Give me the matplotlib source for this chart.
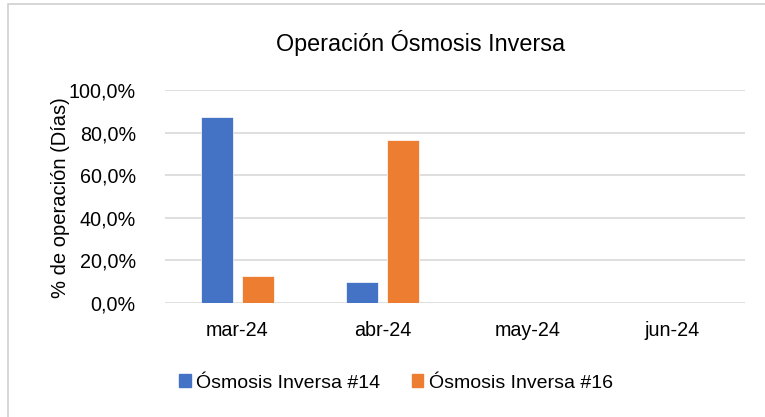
import matplotlib
matplotlib.use("Agg")
import matplotlib.pyplot as plt
from matplotlib.patches import Rectangle, Patch
from matplotlib.ticker import FuncFormatter
import numpy as np

plt.rcParams['font.family'] = ['Liberation Sans', 'DejaVu Sans']

# data
months = ['mar-24', 'abr-24', 'may-24', 'jun-24']
oi_14 = [87.1, 9.7, 0.0, 0.0]
oi_16 = [12.9, 76.7, 0.0, 0.0]
series_names = ['Ósmosis Inversa #14', 'Ósmosis Inversa #16']
title = 'Operación Ósmosis Inversa'
ylabel = '% de operación (Días)'

blue = '#4472C4'
orange = '#ED7D31'
grid_c = '#d9d9d9'

W, H = 765, 417
fig = plt.figure(figsize=(W / 100, H / 100), dpi=100)

# chart frame
fig.patches.append(Rectangle((8 / W, -0.1), 1.2, (H - 4) / H + 0.1,
                             transform=fig.transFigure, fill=False,
                             edgecolor='#d0d0d0', linewidth=1.2))

ax = fig.add_axes([165 / W, (H - 303) / H, 580 / W, 213 / H])

x = np.arange(len(months))
w = 0.22
off = 0.141
ax.bar(x - off, oi_14, w, color=blue, edgecolor='white', linewidth=0.5, zorder=3)
ax.bar(x + off, oi_16, w, color=orange, edgecolor='white', linewidth=0.5, zorder=3)

ax.set_xlim(-0.5, len(months) - 0.5)
ax.set_ylim(0, 100)
ax.set_yticks(np.arange(0, 101, 20))
ax.yaxis.set_major_formatter(FuncFormatter(lambda v, p: f'{v:.1f}%'.replace('.', ',')))
ax.set_xticks(x)
ax.set_xticklabels(months)
ax.tick_params(length=0, labelsize=14.2, colors='black')
ax.tick_params(axis='x', pad=13)
ax.tick_params(axis='y', pad=21)
ax.grid(axis='y', color=grid_c, linewidth=1.2, zorder=0)
for s in ax.spines.values():
    s.set_visible(False)

fig.text(421 / W, 1 - 43 / H, title, ha='center', va='center', fontsize=16.8)
fig.text(60 / W, 1 - 198 / H, ylabel, ha='center', va='center', rotation=90, fontsize=14.5)

handles = [Patch(color=blue), Patch(color=orange)]
fig.legend(handles, series_names, loc='center', bbox_to_anchor=(396 / W, 1 - 383 / H),
           ncol=2, frameon=False, fontsize=14, handlelength=0.6, handleheight=0.6,
           handletextpad=0.3, columnspacing=1.6)

fig.savefig('out.png', dpi=100)
